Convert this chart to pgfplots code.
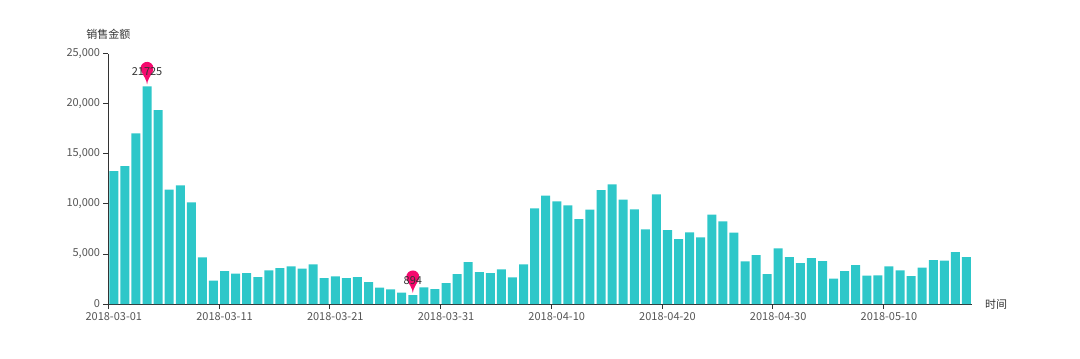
\documentclass[border=0pt]{standalone}
\usepackage{fontspec}
\setmainfont{Noto Sans CJK SC}
\usepackage{pgfplots}
\pgfplotsset{compat=1.18}
\definecolor{barc}{HTML}{2EC7C9}
\definecolor{pinc}{HTML}{F50A6E}
\definecolor{axc}{HTML}{333333}
\definecolor{tlc}{HTML}{555555}
\pgfdeclareplotmark{pin}{%
  \pgfpathmoveto{\pgfqpoint{-6.08bp}{15.8bp}}%
  \pgfpatharc{200.7}{-20.7}{6.5bp}%
  \pgfpathcurveto{\pgfqpoint{4.7bp}{12.15bp}}{\pgfqpoint{0bp}{6.55bp}}{\pgfqpoint{0bp}{2bp}}%
  \pgfpathcurveto{\pgfqpoint{0bp}{6.55bp}}{\pgfqpoint{-4.7bp}{12.15bp}}{\pgfqpoint{-6.08bp}{15.8bp}}%
  \pgfpathclose
  \pgfusepathqfill
}
\begin{document}
\begin{tikzpicture}[x=1bp,y=1bp]
\useasboundingbox (0,0) rectangle (1080,358);
\begin{axis}[
  at={(108.3bp,54bp)}, anchor=south west,
  scale only axis, width=863.7bp, height=250.3bp,
  xmin=-0.5, xmax=77.5, ymin=0, ymax=25000,
  clip=false,
  axis x line*=bottom, axis y line*=left,
  axis line style={-, draw=axc, line width=0.8bp},
  tick align=outside, major tick length=5bp,
  tick style={draw=axc, line width=0.8bp},
  xtick={-0.5,9.5,19.5,29.5,39.5,49.5,59.5,69.5},
  xticklabels={2018-03-01,2018-03-11,2018-03-21,2018-03-31,2018-04-10,2018-04-20,2018-04-30,2018-05-10},
  xticklabel style={xshift=5.5bp, anchor=north, inner sep=0pt, yshift=-3bp, text=tlc, font=\fontsize{11bp}{13bp}\selectfont},
  ytick={0,5000,10000,15000,20000,25000},
  scaled y ticks=false,
  yticklabel style={anchor=east, inner sep=0pt, xshift=-3bp, text=tlc, font=\fontsize{11bp}{13bp}\selectfont,
    /pgf/number format/.cd, fixed, 1000 sep={,}, assume math mode=true},
  xlabel={时间},
  xlabel style={at={(rel axis cs:1,0)}, anchor=west, xshift=13bp, yshift=0bp, inner sep=0pt, text=axc, font=\fontsize{11bp}{13bp}\selectfont},
  ylabel={销售金额},
  ylabel style={at={(rel axis cs:0,1)}, anchor=center, rotate=-90, yshift=19bp, inner sep=0pt, text=axc, font=\fontsize{11bp}{13bp}\selectfont},
]
\addplot[ybar, bar width=0.813, fill=barc, draw=none] coordinates {
(0,13283) (1,13782) (2,17044) (3,21725) (4,19375) (5,11418) (6,11851) (7,10153) (8,4661) (9,2330)
(10,3296) (11,3029) (12,3096) (13,2696) (14,3362) (15,3595) (16,3762) (17,3529) (18,3961) (19,2597)
(20,2763) (21,2597) (22,2696) (23,2197) (24,1631) (25,1465) (26,1132) (27,894) (28,1665) (29,1498)
(30,2097) (31,2996) (32,4195) (33,3196) (34,3096) (35,3462) (36,2663) (37,3961) (38,9554) (39,10819)
(40,10253) (41,9854) (42,8489) (43,9421) (44,11385) (45,11951) (46,10420) (47,9454) (48,7457) (49,10952)
(50,7390) (51,6492) (52,7157) (53,6658) (54,8922) (55,8256) (56,7124) (57,4261) (58,4894) (59,2996)
(60,5559) (61,4694) (62,4095) (63,4594) (64,4294) (65,2530) (66,3296) (67,3895) (68,2830) (69,2863)
(70,3762) (71,3362) (72,2796) (73,3629) (74,4394) (75,4328) (76,5193) (77,4694)
};
\addplot[only marks, mark=pin, color=pinc, fill=pinc,
  nodes near coords, point meta=explicit symbolic,
  every node near coord/.append style={anchor=center, yshift=14.5bp, inner sep=0pt, text=axc, font=\fontsize{11bp}{13bp}\selectfont}]
  coordinates {(3,21725)[21725] (27,894)[894]};
\end{axis}
\end{tikzpicture}
\end{document}
